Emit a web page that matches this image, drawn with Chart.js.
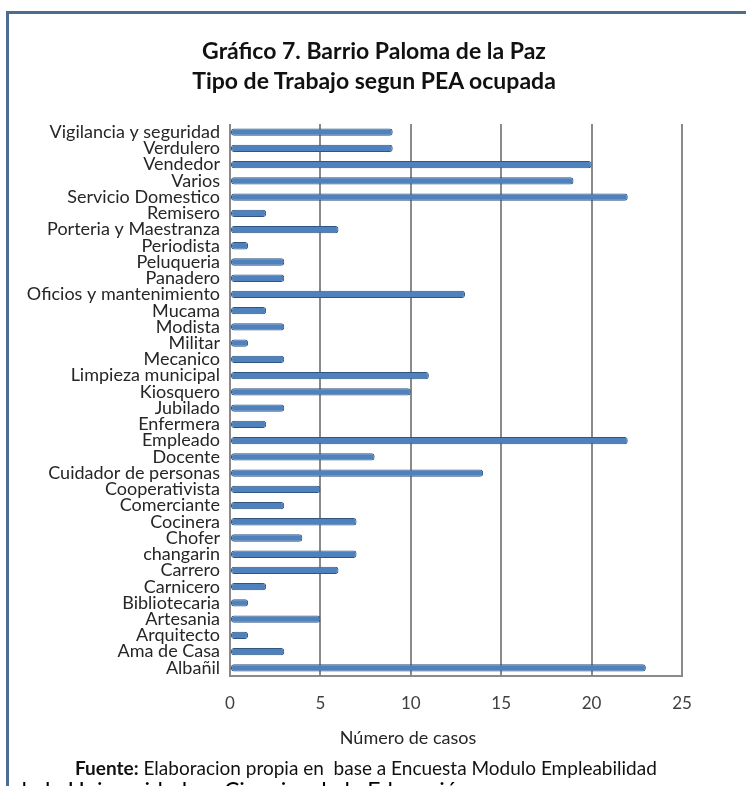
<!DOCTYPE html>
<html>
<head>
<meta charset="utf-8">
<script src="https://cdn.jsdelivr.net/npm/chart.js@4"></script>
<style>
  html, body { margin: 0; padding: 0; background: #fff; width: 746px; height: 786px; overflow: hidden; }
  #frame { position: absolute; left: 6px; top: 11px; width: 760px; height: 800px;
           border-top: 3px solid #4d6d90; border-left: 3px solid #4d6d90; box-sizing: border-box; }
  #c { position: absolute; left: 0; top: 0; }
  .txt { position: absolute; font-family: Lato, "Open Sans", sans-serif; color: #111; white-space: pre; }
  .ttl { position: absolute; left: 374px; transform: translateX(-50%); font-family: Lato, "Open Sans", sans-serif;
         font-weight: bold; font-size: 23px; color: #111; white-space: pre; line-height: 30px; }
</style>
</head>
<body>
<div id="frame"></div>
<canvas id="c" width="746" height="786"></canvas>
<div class="ttl" id="t1" style="top:35px;"></div>
<div class="ttl" id="t2" style="top:65px;"></div>
<div class="txt" id="axt" style="left:408px; top:726px; font-size:18px; color:#262626; transform:translateX(-50%);"></div>
<div class="txt" style="left:75px; top:756px; font-size:19px;"><b>Fuente:</b> Elaboracion propia en  base a Encuesta Modulo Empleabilidad</div>
<div class="txt" style="left:14px; top:776px; font-size:23px; color:#000;">de la Universidad en Ciencias de la Educación</div>
<script>
const titleLines = ["Gráfico 7. Barrio Paloma de la Paz", "Tipo de Trabajo segun PEA ocupada"];
const axisTitle = "Número de casos";
const categories = [
  "Vigilancia y seguridad", "Verdulero", "Vendedor", "Varios", "Servicio Domestico",
  "Remisero", "Porteria y Maestranza", "Periodista", "Peluqueria", "Panadero",
  "Oficios y mantenimiento", "Mucama", "Modista", "Militar", "Mecanico",
  "Limpieza municipal", "Kiosquero", "Jubilado", "Enfermera", "Empleado",
  "Docente", "Cuidador de personas", "Cooperativista", "Comerciante", "Cocinera",
  "Chofer", "changarin", "Carrero", "Carnicero", "Bibliotecaria",
  "Artesania", "Arquitecto", "Ama de Casa", "Albañil"
];
const casos = [
  9, 9, 20, 19, 22,
  2, 6, 1, 3, 3,
  13, 2, 3, 1, 3,
  11, 10, 3, 2, 22,
  8, 14, 5, 3, 7,
  4, 7, 6, 2, 1,
  5, 1, 3, 23
];
const xTicks = [0, 5, 10, 15, 20, 25];

document.getElementById('t1').textContent = titleLines[0];
document.getElementById('t2').textContent = titleLines[1];
document.getElementById('axt').textContent = axisTitle;
const FONT = "Lato, 'Open Sans', sans-serif";

new Chart(document.getElementById('c'), {
  type: 'bar',
  data: {
    labels: categories,
    datasets: [{
      data: casos,
      backgroundColor: '#4f81bd',
      borderColor: '#2f5582',
      borderWidth: 1,
      borderRadius: 3,
      borderSkipped: false,
      barPercentage: 0.45,
      categoryPercentage: 1.0
    }]
  },
  options: {
    indexAxis: 'y',
    responsive: false,
    animation: false,
    devicePixelRatio: 1,
    layout: { padding: { left: 10, right: 64, top: 124, bottom: 73 } },
    plugins: {
      legend: { display: false },
      tooltip: { enabled: false },
      title: { display: false }
    },
    scales: {
      x: {
        min: 0, max: 25,
        afterBuildTicks: (s) => { s.ticks = xTicks.map(v => ({ value: v })); },
        afterFit: (s) => { s.height = 37; },
        grid: { color: '#8a8a8a', lineWidth: 2, drawTicks: false, tickLength: 0 },
        border: { display: true, color: '#8a8a8a', width: 2 },
        ticks: { color: '#404040', font: { family: FONT, size: 17 }, padding: 17 }
      },
      y: {
        afterFit: (s) => { s.width = 220; },
        grid: { display: false, drawTicks: false },
        border: { display: false },
        ticks: { color: '#262626', font: { family: FONT, size: 18 }, padding: 10, autoSkip: false }
      }
    }
  }
});
</script>
</body>
</html>
